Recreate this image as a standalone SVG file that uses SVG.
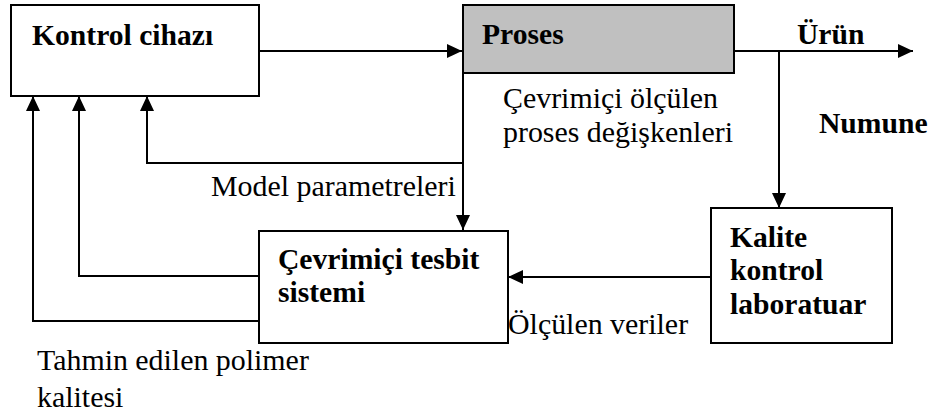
<svg xmlns="http://www.w3.org/2000/svg" width="933" height="415" viewBox="0 0 933 415">
  <style>
    .box { fill: #ffffff; stroke: #000000; stroke-width: 2; }
    .proc { fill: #c0c0c0; stroke: #000000; stroke-width: 2; }
    .wire { fill: none; stroke: #000000; stroke-width: 2; }
    text { font-family: 'Liberation Serif', Tinos, 'Times New Roman', 'DejaVu Serif', serif; fill: #000000; }
    .bold { font-weight: bold; font-size: 29.6px; }
    .reg { font-weight: normal; font-size: 29.9px; }
  </style>
  <defs>
    <marker id="arrow" markerUnits="userSpaceOnUse" markerWidth="16" markerHeight="14" refX="15" refY="7" orient="auto">
      <path d="M0,0 L15,7 L0,14 z" fill="#000000"/>
    </marker>
  </defs>

  <rect width="933" height="415" fill="#ffffff"/>

  <!-- connectors -->
  <g id="connectors">
    <path class="wire" d="M259,51 H462" marker-end="url(#arrow)"/>
    <path class="wire" d="M734,51 H913" marker-end="url(#arrow)"/>
    <path class="wire" d="M779,51 V208" marker-end="url(#arrow)"/>
    <path class="wire" d="M463,73 V230" marker-end="url(#arrow)"/>
    <path class="wire" d="M463,163 H147 V96" marker-end="url(#arrow)"/>
    <path class="wire" d="M711,277 H508" marker-end="url(#arrow)"/>
    <path class="wire" d="M259,276 H79 V96" marker-end="url(#arrow)"/>
    <path class="wire" d="M259,321 H33 V96" marker-end="url(#arrow)"/>
  </g>

  <!-- controller -->
  <g id="kontrol">
    <rect class="box" x="11" y="5" width="248" height="91"/>
    <text class="bold" x="32" y="45">Kontrol cihazı</text>
  </g>

  <!-- process -->
  <g id="proses">
    <rect class="proc" x="463" y="5" width="271" height="68"/>
    <text class="bold" x="482" y="44">Proses</text>
  </g>

  <!-- online estimator -->
  <g id="tesbit">
    <rect class="box" x="259" y="231" width="249" height="112"/>
    <text class="bold" x="278" y="269">Çevrimiçi tesbit</text>
    <text class="bold" x="278" y="302">sistemi</text>
  </g>

  <!-- quality control lab -->
  <g id="kalite">
    <rect class="box" x="711" y="208" width="181" height="135"/>
    <text class="bold" x="730" y="247">Kalite</text>
    <text class="bold" x="730" y="280">kontrol</text>
    <text class="bold" x="730" y="314">laboratuar</text>
  </g>

  <!-- labels -->
  <g id="labels">
    <text class="bold" x="797" y="44">Ürün</text>
    <text class="bold" x="819" y="133">Numune</text>
    <text class="reg" x="503" y="108">Çevrimiçi ölçülen</text>
    <text class="reg" x="503" y="142">proses değişkenleri</text>
    <text class="reg" x="211" y="196">Model parametreleri</text>
    <text class="reg" x="508" y="334">Ölçülen veriler</text>
    <text class="reg" x="37" y="370">Tahmin edilen polimer</text>
    <text class="reg" x="37" y="407">kalitesi</text>
  </g>
</svg>
